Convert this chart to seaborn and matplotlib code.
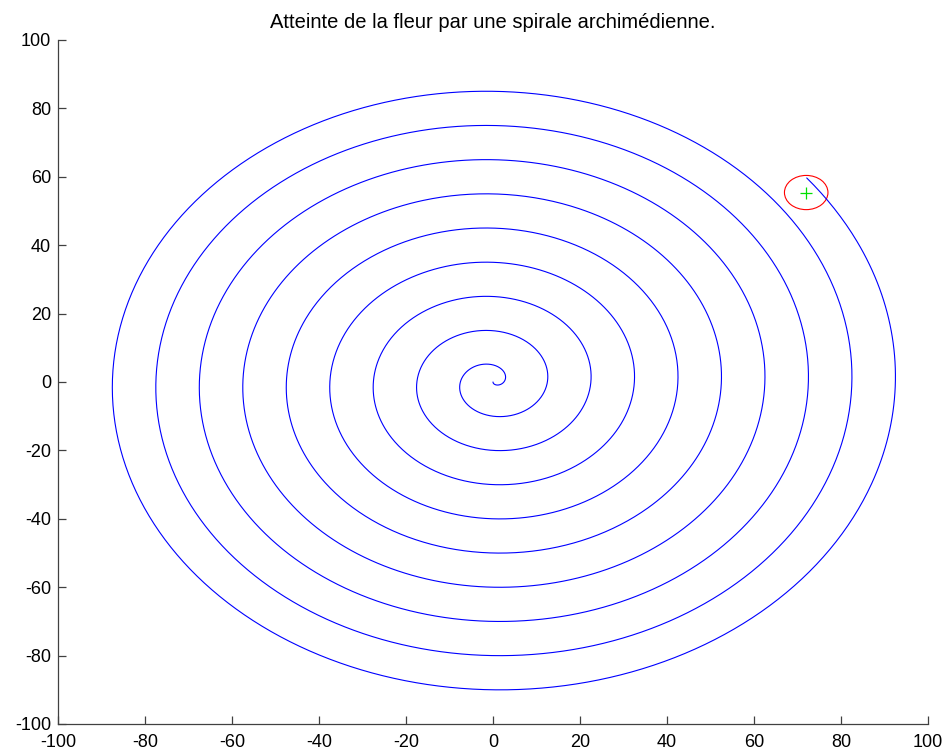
import numpy as np
import pandas as pd
import matplotlib
matplotlib.use("Agg")
import matplotlib.pyplot as plt
from matplotlib.patches import Circle
import seaborn as sns

# Archimedean spiral r = pitch * phi / (2*pi), starting at the origin heading down
spiral_pitch = 10.0          # radial growth per full turn
spiral_turns = 9.36          # number of turns until the flower is reached
flower_xy = [72.0, 55.4]     # position of the flower
flower_radius = 5.0          # capture radius drawn around the flower

x_ticks = [-100, -80, -60, -40, -20, 0, 20, 40, 60, 80, 100]
y_ticks = [-100, -80, -60, -40, -20, 0, 20, 40, 60, 80, 100]
title = "Atteinte de la fleur par une spirale archimédienne."

phi = np.linspace(0.0, 2 * np.pi * spiral_turns, 6000)
r = spiral_pitch * phi / (2 * np.pi)
spiral = pd.DataFrame({"x": r * np.sin(phi), "y": -r * np.cos(phi)})

sns.set_theme(style="white")
plt.rcParams["font.family"] = ["Liberation Sans", "DejaVu Sans"]

fig = plt.figure(figsize=(9.48, 7.54), dpi=100)
ax = fig.add_axes([58 / 948, 1 - 724 / 754, 870 / 948, 684 / 754])

sns.lineplot(data=spiral, x="x", y="y", sort=False, estimator=None,
             color="#0000ff", linewidth=0.8, ax=ax)
ax.add_patch(Circle(flower_xy, flower_radius, fill=False, edgecolor="#ff0000", linewidth=0.8))
ax.plot([flower_xy[0]], [flower_xy[1]], marker="+", color="#00e000",
        markersize=9, markeredgewidth=0.9, linestyle="none")

ax.set_xlim(-100, 100)
ax.set_ylim(-100, 100)
ax.set_xticks(x_ticks)
ax.set_yticks(y_ticks)
ax.set_xticklabels([str(v) for v in x_ticks])
ax.set_yticklabels([str(v) for v in y_ticks])
ax.set_xlabel("")
ax.set_ylabel("")

for side in ("top", "right"):
    ax.spines[side].set_visible(False)
for side in ("left", "bottom"):
    ax.spines[side].set_color("#404040")
    ax.spines[side].set_linewidth(0.9)

ax.tick_params(axis="both", which="major", bottom=True, left=True, top=False, right=False,
               direction="in", length=6, width=0.9, color="#404040",
               labelsize=13, labelcolor="black")
ax.tick_params(axis="x", pad=7)
ax.tick_params(axis="y", pad=5)

ax.set_title(title, fontsize=14.5, pad=9, color="black")

fig.savefig("out.png", dpi=100)
